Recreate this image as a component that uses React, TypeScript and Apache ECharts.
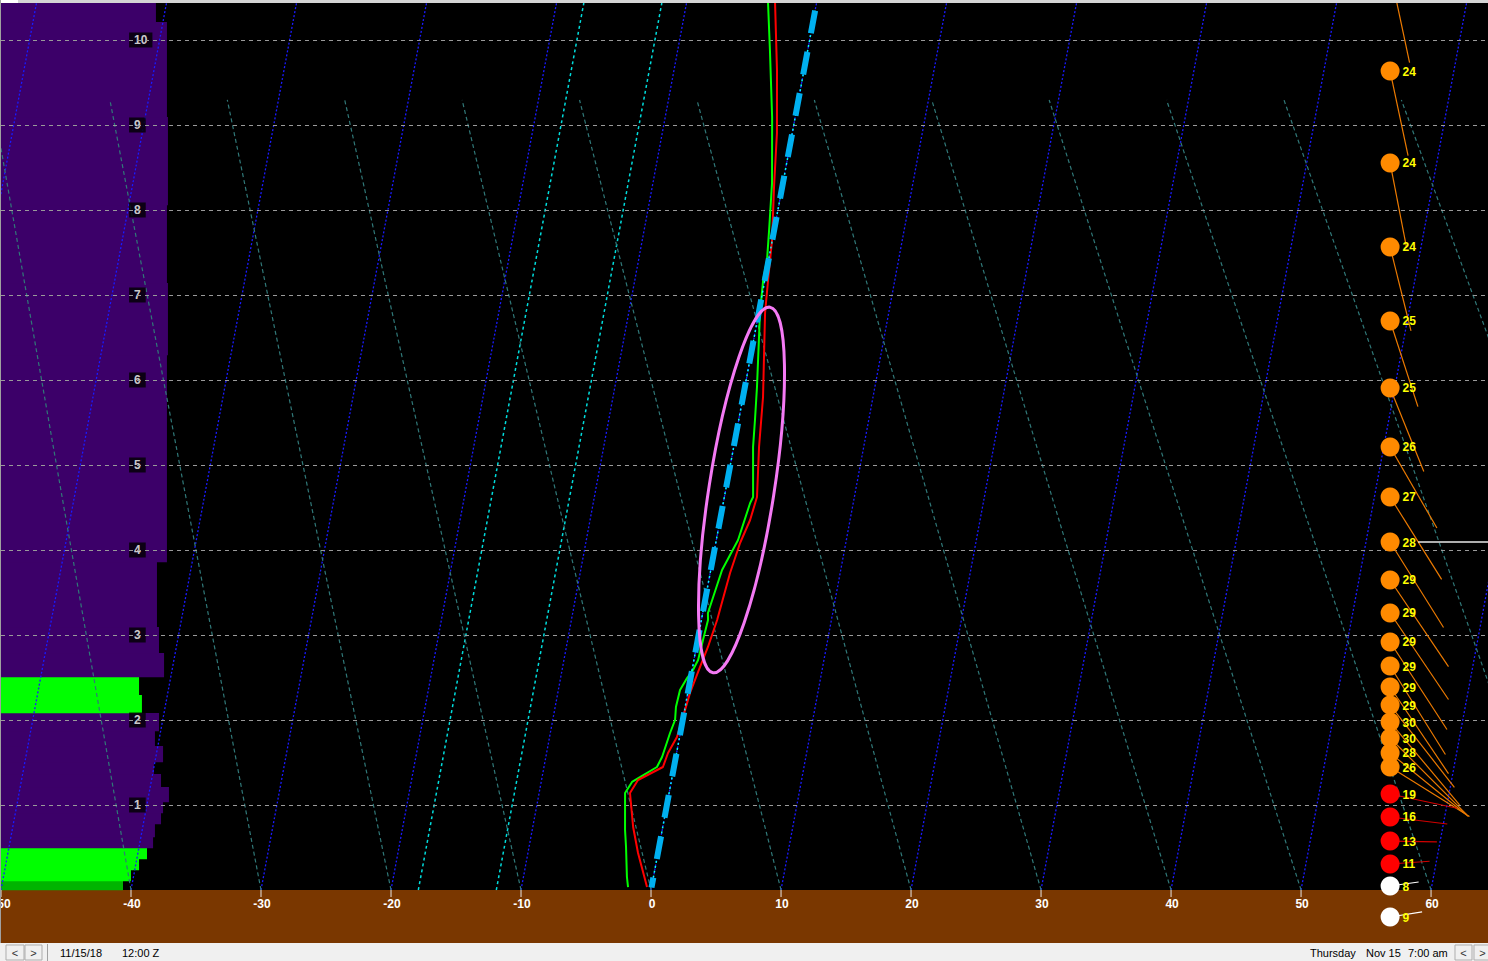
import React, { useEffect, useRef } from "react";
import * as echarts from "echarts";

// ---------------- axes ----------------
const X_MIN = -50;
const X_MAX = 64.38;
const Y_MIN = -0.6235; // km (ground band below 0)
const Y_MAX = 10.435;
const SKEW = 1.22; // axis degrees per km of height (isotherm skew)

const X_TICKS = [-50, -40, -30, -20, -10, 0, 10, 20, 30, 40, 50, 60];
const KM_LEVELS = [1, 2, 3, 4, 5, 6, 7, 8, 9, 10];
const KM_LABEL_X = -40.15;

// ---------------- background lines ----------------
const ISOTHERMS = [-60, -50, -40, -30, -20, -10, 0, 10, 20, 30, 40, 50, 60];
const MIX_LINE_BASES = [-17.9, -11.9];
const ADIABAT_BASES = [-50, -40, -30, -20, -10, 0, 10, 20, 30, 40, 50, 60, 70, 80];
const ADIABAT_TOP_KM = 9.294;
const ADIABAT_RATIO = 0.9031;
const ADIABAT_SHIFT = -14.53;
const FREEZE_BOTTOM_KM = 0.03;
const FREEZE_TOP_KM = 10.38;

// ---------------- sounding (deskewed temperature, °C) ----------------
const TEMP_KM = [0.035, 0.435, 0.741, 1.141, 1.294, 1.447, 1.612, 1.8, 2.035, 2.318, 2.624, 2.859, 3.176, 3.729, 4.082, 4.353, 4.624, 5.212, 5.8, 6.788, 7.176, 7.647, 8.271, 8.906, 9.647, 10.435];
const TEMP_C = [-0.35, -1.53, -2.28, -3.01, -2.58, -0.85, -0.66, -0.2, -0.02, 0.17, 0.57, 0.89, 1.21, 1.53, 1.87, 2.31, 2.51, 1.95, 1.54, 0.49, 0.25, -0.02, -0.63, -1.18, -2.08, -3.19];

const DEW_KM = [0.035, 0.153, 0.506, 0.706, 1.141, 1.271, 1.329, 1.447, 1.565, 1.847, 2.0, 2.153, 2.353, 2.494, 2.588, 2.706, 2.941, 3.176, 3.259, 3.765, 4.118, 4.553, 4.624, 5.212, 5.529, 5.918, 6.788, 7.176, 7.412, 7.765, 8.318, 9.094, 9.882, 10.435];
const DEW_C = [-1.81, -2.04, -2.54, -2.86, -3.39, -3.01, -2.47, -1.31, -1.06, -0.79, -0.59, -0.71, -0.64, -0.27, 0.07, 0.32, 0.41, 0.51, 0.4, 0.87, 1.67, 2.07, 2.21, 1.49, 1.25, 0.93, 0.1, -0.13, -0.12, -0.39, -0.84, -1.78, -2.91, -3.73];

// ---------------- humidity layers (left bars) ----------------
const LAYER_BOTTOM_KM = [0, 0.106, 0.235, 0.365, 0.494, 0.624, 0.776, 0.906, 1.035, 1.212, 1.365, 1.506, 1.694, 1.871, 2.082, 2.294, 2.506, 2.788, 3.094, 3.859, 6.294, 7.141, 8.059, 9.094, 10.212];
const LAYER_TOP_KM = [0.106, 0.235, 0.365, 0.494, 0.624, 0.776, 0.906, 1.035, 1.212, 1.365, 1.506, 1.694, 1.871, 2.082, 2.294, 2.506, 2.788, 3.094, 3.859, 6.294, 7.141, 8.059, 9.094, 10.212, 10.6];
const LAYER_RH = [72.2, 76.9, 81.7, 86.4, 90.0, 91.1, 94.7, 95.9, 99.4, 94.7, 90.5, 95.9, 91.1, 93.5, 83.4, 81.7, 96.5, 93.5, 92.3, 98.2, 98.8, 98.2, 98.8, 98.2, 91.7];
const RH_AXIS_MAX = 880;

// ---------------- winds ----------------
const WIND_X = 56.85;
const WIND_KM = [10.81, 9.635, 8.553, 7.565, 6.694, 5.906, 5.212, 4.624, 4.094, 3.647, 3.259, 2.918, 2.635, 2.388, 2.176, 1.976, 1.788, 1.612, 1.447, 1.129, 0.859, 0.576, 0.306, 0.047, -0.318];
const WIND_KT = [26, 24, 24, 24, 25, 25, 26, 27, 28, 29, 29, 29, 29, 29, 29, 30, 30, 28, 26, 19, 16, 13, 11, 8, 9];
const WIND_DIR = [168, 168, 169, 166, 162, 158, 150, 148, 148, 146, 146, 147, 148, 146, 142, 140, 135, 129, 122, 102, 97, 91, 86, 82, 81];
const MARKED_LEVEL_KM = 4.094;
const MARKED_LEVEL_X0 = 59.0;

// annotation ellipse (axis coords)
const ELLIPSE_X = 6.96;
const ELLIPSE_KM = 4.706;

const FONT = '"Liberation Sans", Arial, sans-serif';

function rhColor(rh: number) {
  if (rh >= 88) return "#3c0069";
  if (rh >= 75) return "#00ff00";
  return "#00b400";
}

function windColors(kt: number) {
  if (kt < 10) return { fill: "#ffffff", stick: "#ffffff" };
  if (kt < 20) return { fill: "#ff0000", stick: "#d00000" };
  return { fill: "#ff8a00", stick: "#ec7a00" };
}

function lineSeries(data: number[][], color: string, width: number, type: any, z: number, extra: any = {}) {
  return {
    type: "line",
    data,
    showSymbol: false,
    symbol: "none",
    silent: true,
    z,
    lineStyle: { color, width, type, ...extra },
  };
}

function buildOption() {
  const series: any[] = [];

  // ground band
  series.push({
    type: "line",
    data: [],
    silent: true,
    z: 1,
    markArea: {
      silent: true,
      itemStyle: { color: "#7a3700" },
      data: [[{ yAxis: Y_MIN }, { yAxis: 0 }]],
    },
  });

  // humidity bars
  series.push({
    type: "custom",
    xAxisIndex: 1,
    yAxisIndex: 0,
    z: 2,
    silent: true,
    clip: true,
    encode: { x: 2, y: 1 },
    data: LAYER_RH.map((rh, i) => [LAYER_BOTTOM_KM[i], LAYER_TOP_KM[i], rh]),
    renderItem: (params: any, api: any) => {
      const b = api.value(0);
      const t = api.value(1);
      const rh = api.value(2);
      const p0 = api.coord([0, b]);
      const p1 = api.coord([rh, t]);
      return {
        type: "rect",
        shape: { x: p0[0], y: p1[1], width: p1[0] - p0[0], height: p0[1] - p1[1] + 0.3 },
        style: { fill: rhColor(rh) },
      };
    },
  });

  // km lines
  series.push({
    type: "line",
    data: [],
    silent: true,
    z: 3,
    markLine: {
      silent: true,
      symbol: ["none", "none"],
      label: { show: false },
      lineStyle: { color: "#9a9a9a", type: [4, 4], width: 1 },
      data: KM_LEVELS.map((v) => ({ yAxis: v })),
    },
  });

  // isotherms
  ISOTHERMS.forEach((t) => {
    series.push(lineSeries([[t, 0], [t + SKEW * Y_MAX, Y_MAX]], "#1a1aff", 1.3, [2, 2], 3));
  });
  // mixing-ratio style lines
  MIX_LINE_BASES.forEach((t) => {
    series.push(lineSeries([[t, 0], [t + SKEW * Y_MAX, Y_MAX]], "#00dcdc", 1.5, [3, 3], 3));
  });
  // dry adiabats (axis coords)
  ADIABAT_BASES.forEach((t) => {
    series.push(lineSeries([[t, 0], [ADIABAT_RATIO * t + ADIABAT_SHIFT, ADIABAT_TOP_KM]], "#307878", 1.2, [4, 3], 3));
  });

  // km labels
  series.push({
    type: "scatter",
    z: 4,
    silent: true,
    symbolSize: 0,
    itemStyle: { color: "rgba(0,0,0,0)" },
    data: KM_LEVELS.map((v) => [KM_LABEL_X, v]),
    label: {
      show: true,
      position: "right",
      distance: 0,
      formatter: (p: any) => String(p.value[1]),
      color: "#ffffff",
      fontWeight: "bold",
      fontSize: 12,
      fontFamily: FONT,
      backgroundColor: "#000000",
      padding: [2, 5, 1, 5],
      lineHeight: 12,
    },
  });

  // temperature-axis ticks and labels on the ground line
  series.push({
    type: "custom",
    z: 9,
    silent: true,
    clip: false,
    encode: { x: 0, y: 1 },
    data: X_TICKS.map((t) => [t, 0]),
    renderItem: (params: any, api: any) => {
      const t = api.value(0);
      const c = api.coord([t, 0]);
      return {
        type: "group",
        children: [
          { type: "line", shape: { x1: c[0], y1: c[1], x2: c[0], y2: c[1] + 7 }, style: { stroke: "#e6e6e6", lineWidth: 1 } },
          {
            type: "text",
            x: c[0] + 1,
            y: c[1] + 8,
            style: { text: String(t), fill: "#ffffff", font: `bold 12px ${FONT}`, align: "center", verticalAlign: "top" },
          },
        ],
      };
    },
  });

  // sounding lines
  series.push(lineSeries(DEW_KM.map((h, i) => [DEW_C[i] + SKEW * h, h]), "#00ff00", 2, "solid", 5));
  series.push(lineSeries(TEMP_KM.map((h, i) => [TEMP_C[i] + SKEW * h, h]), "#ff0000", 2, "solid", 5));

  // freezing isotherm highlighted
  const fz = [[SKEW * FREEZE_BOTTOM_KM, FREEZE_BOTTOM_KM], [SKEW * FREEZE_TOP_KM, FREEZE_TOP_KM]];
  series.push(lineSeries(fz, "#00ffff", 1.5, [2, 3], 5));
  series.push(lineSeries(fz, "#00b0f0", 6, [23, 19], 5, { dashOffset: 13, cap: "butt" }));

  // annotation ellipse
  series.push({
    type: "custom",
    z: 6,
    silent: true,
    clip: false,
    encode: { x: 0, y: 1 },
    data: [[ELLIPSE_X, ELLIPSE_KM]],
    renderItem: (params: any, api: any) => {
      const c = api.coord([api.value(0), api.value(1)]);
      return {
        type: "ellipse",
        x: c[0],
        y: c[1],
        rotation: -0.1545,
        shape: { cx: 0, cy: 0, rx: 32.6, ry: 185 },
        style: { fill: "none", stroke: "#f47af4", lineWidth: 3 },
      };
    },
  });

  // winds
  series.push({
    type: "custom",
    z: 7,
    silent: true,
    clip: true,
    encode: { x: 1, y: 0 },
    data: WIND_KM.map((h, i) => [h, WIND_KT[i], WIND_DIR[i]]),
    renderItem: (params: any, api: any) => {
      const h = api.value(0);
      const kt = api.value(1);
      const dir = api.value(2);
      const c = api.coord([WIND_X, h]);
      const len = kt * 3.6;
      const rad = (dir * Math.PI) / 180;
      const col = windColors(kt);
      const children: any[] = [
        {
          type: "line",
          shape: { x1: c[0], y1: c[1], x2: c[0] + Math.sin(rad) * len, y2: c[1] - Math.cos(rad) * len },
          style: { stroke: col.stick, lineWidth: 1.2 },
        },
        { type: "circle", shape: { cx: c[0], cy: c[1], r: 9.5 }, style: { fill: col.fill } },
      ];
      if (h <= Y_MAX) {
        children.push({
          type: "text",
          x: c[0] + 12.5,
          y: c[1] + 0.5,
          style: {
            text: String(kt),
            fill: "#ffff00",
            font: `bold 12px ${FONT}`,
            align: "left",
            verticalAlign: "middle",
          },
        });
      }
      return { type: "group", children };
    },
  });

  // marked level line
  series.push(lineSeries([[MARKED_LEVEL_X0, MARKED_LEVEL_KM], [X_MAX, MARKED_LEVEL_KM]], "#e8e8e8", 1.5, "solid", 8));

  const statusText = (text: string, x: number) => ({
    type: "text",
    x,
    y: 953,
    z: 101,
    style: { text, fill: "#000000", font: `11px ${FONT}`, verticalAlign: "middle", align: "left" },
  });
  const button = (x: number, w: number, label: string) => [
    {
      type: "rect",
      z: 101,
      shape: { x, y: 945, width: w, height: 15 },
      style: { fill: "#f0f0f0", stroke: "#adadad", lineWidth: 1 },
    },
    {
      type: "text",
      z: 102,
      x: x + w / 2,
      y: 952.5,
      style: { text: label, fill: "#333333", font: `11px ${FONT}`, align: "center", verticalAlign: "middle" },
    },
  ];

  const graphic: any[] = [
    { type: "rect", z: 100, shape: { x: 0, y: 943, width: 1488, height: 18 }, style: { fill: "#f0f0f0" } },
    { type: "rect", z: 100, shape: { x: 0, y: 0, width: 1488, height: 3 }, style: { fill: "#d4d4d4" } },
    { type: "rect", z: 100, shape: { x: 0, y: 0, width: 18, height: 3 }, style: { fill: "#ffffff" } },
    { type: "rect", z: 100, shape: { x: 0, y: 0, width: 1, height: 943 }, style: { fill: "#a0a0a0" } },
    ...button(6, 18, "<"),
    ...button(25, 17, ">"),
    { type: "rect", z: 101, shape: { x: 47, y: 944, width: 1, height: 17 }, style: { fill: "#a0a0a0" } },
    statusText("11/15/18", 60),
    statusText("12:00 Z", 122),
    statusText("Thursday", 1310),
    statusText("Nov 15", 1366),
    statusText("7:00 am", 1408),
    ...button(1455, 17, "<"),
    ...button(1474, 17, ">"),
  ];

  return {
    animation: false,
    backgroundColor: "#000000",
    grid: { left: 1, right: 0, top: 3, bottom: 18, containLabel: false, outerBoundsMode: "none" },
    xAxis: [
      { type: "value", min: X_MIN, max: X_MAX, show: false },
      { type: "value", min: 0, max: RH_AXIS_MAX, show: false },
    ],
    yAxis: { type: "value", min: Y_MIN, max: Y_MAX, show: false },
    series,
    graphic,
  };
}

export default function App() {
  const ref = useRef<HTMLDivElement>(null);
  useEffect(() => {
    document.body.style.margin = "0";
    const chart = echarts.init(ref.current as HTMLDivElement, undefined, { renderer: "svg" });
    chart.setOption(buildOption() as any);
    return () => {
      chart.dispose();
    };
  }, []);
  return (
    <div
      ref={ref}
      style={{ position: "absolute", left: 0, top: 0, width: 1488, height: 961 }}
    />
  );
}
